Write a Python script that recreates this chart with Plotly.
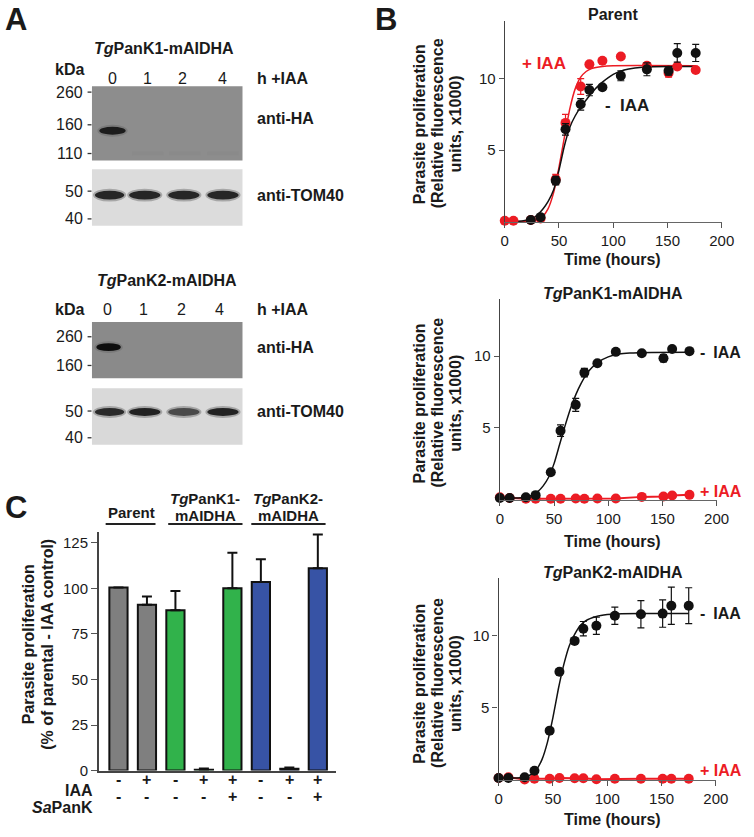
import plotly.graph_objects as go

W, H = 754, 837
FONT = "Liberation Sans, Arial, sans-serif"
RED = "#ec1c24"
BLACK = "#111111"

# ---------------- Panel B data (parasite proliferation, x1000 RFU) ----------------
time_parent = [0, 8, 24, 33, 47, 56, 70, 78, 90, 107, 131, 151, 159, 176]
parent_minus = [None, None, 0.1, 0.3, 2.85, 6.45, 8.2, 9.2, 9.4, 10.2, 10.65, 10.55, 11.8, 11.8]
parent_minus_err = [0, 0, 0, 0, 0.3, 0.4, 0.4, 0.4, 0, 0.35, 0.45, 0.3, 0.65, 0.6]
parent_plus = [0.05, 0.05, 0.1, 0.2, 2.95, 6.9, 9.45, 11.0, 11.25, 11.55, 10.9, 10.4, 10.85, 10.6]
parent_plus_err = [0, 0, 0, 0, 0.35, 0.6, 0.55, 0, 0, 0, 0.2, 0.3, 0, 0]

fit_t_parent_minus = [0, 10, 20, 25, 30, 35, 40, 45, 50, 55, 60, 65, 70, 75, 80, 90, 100, 110, 120, 130, 150, 176]
fit_parent_minus = [0.0, 0.0, 0.08, 0.2, 0.45, 0.85, 1.4, 2.2, 3.6, 5.3, 6.6, 7.4, 8.0, 8.5, 9.0, 9.75, 10.3, 10.6, 10.75, 10.82, 10.85, 10.85]
fit_t_parent_plus = [0, 10, 20, 30, 35, 40, 45, 50, 55, 60, 65, 70, 75, 80, 90, 100, 176]
fit_parent_plus = [0.0, 0.0, 0.0, 0.1, 0.35, 0.9, 2.0, 3.8, 5.9, 7.9, 9.3, 10.1, 10.5, 10.7, 10.85, 10.9, 10.9]

time_k = [0, 9, 24, 33, 47, 56, 70, 78, 90, 107, 131, 151, 159, 175]
k1_minus = [0.1, 0.1, 0.15, 0.3, 1.9, 4.8, 6.6, 8.85, 9.5, 10.3, 10.2, 9.85, 10.5, 10.35]
k1_minus_err = [0, 0, 0, 0, 0, 0.4, 0.45, 0.3, 0, 0, 0, 0.25, 0, 0]
k1_plus = [0.15, 0.1, 0.05, 0.05, 0.05, 0.05, 0.07, 0.05, 0.07, 0.07, 0.18, 0.2, 0.28, 0.32]
fit_t_k1 = [0, 10, 20, 25, 30, 35, 40, 45, 50, 55, 60, 65, 70, 75, 80, 85, 90, 100, 110, 120, 140, 175]
fit_k1 = [0.1, 0.1, 0.12, 0.18, 0.3, 0.55, 0.95, 1.55, 2.5, 3.8, 5.1, 6.3, 7.3, 8.1, 8.75, 9.2, 9.55, 9.95, 10.15, 10.22, 10.26, 10.27]

k2_minus = [0.1, 0.1, 0.15, 0.6, 3.4, 7.5, 9.65, 10.5, 10.7, 11.4, 11.5, 11.55, 12.1, 12.1]
k2_minus_err = [0, 0, 0, 0, 0, 0.2, 0, 0.5, 0.6, 0.6, 0.95, 0.95, 1.3, 1.25]
k2_plus = [0.1, 0.15, 0.0, 0.05, 0.05, 0.1, 0.08, 0.08, 0.02, 0.05, 0.05, 0.05, 0.05, 0.05]
fit_t_k2 = [0, 10, 20, 25, 30, 35, 40, 45, 50, 55, 60, 65, 70, 75, 80, 90, 100, 110, 130, 175]
fit_k2 = [0.1, 0.1, 0.12, 0.18, 0.35, 0.7, 1.4, 2.6, 4.3, 6.3, 8.0, 9.3, 10.1, 10.7, 11.05, 11.35, 11.48, 11.53, 11.55, 11.55]

time_ticks = [0, 50, 100, 150, 200]
rfu_ticks = [5, 10]

# ---------------- Panel C data ----------------
bar_values = [100.5, 91, 88, 0.5, 100, 103.5, 1, 111]
bar_err = [0, 4.5, 10.5, 0.7, 19.5, 12.5, 0.7, 18.5]
bar_colors = ["#7f7f7f", "#7f7f7f", "#31b24b", "#31b24b", "#31b24b", "#3753a5", "#3753a5", "#3753a5"]
iaa_signs = ["-", "+", "-", "+", "+", "-", "+", "+"]
sapank_signs = ["-", "-", "-", "-", "+", "-", "-", "+"]
pct_ticks = [0, 25, 50, 75, 100, 125]

# ---------------- Panel A labels ----------------
lanes = ["0", "1", "2", "4"]
blot1_ha_markers = ["260", "160", "110"]
blot1_tom_markers = ["50", "40"]
blot2_ha_markers = ["260", "160"]
blot2_tom_markers = ["50", "40"]


def px(x):
    return x / W


def py(y):
    return 1 - y / H


fig = go.Figure()
shapes = []
ann = []


def text(x, y, s, size=16, bold=False, color="#1a1a1a", xanchor="center", angle=0, yanchor="middle"):
    ann.append(dict(x=px(x), y=py(y), xref="paper", yref="paper", text=("<b>%s</b>" % s) if bold else s,
                    showarrow=False, xanchor=xanchor, yanchor=yanchor, textangle=angle,
                    font=dict(family=FONT, size=size, color=color)))


def rect(x0, y0, x1, y1, color):
    shapes.append(dict(type="rect", xref="paper", yref="paper", x0=px(x0), x1=px(x1), y0=py(y1), y1=py(y0),
                       line=dict(width=0), fillcolor=color, layer="below"))


def band(cx, cy, w, h, color, halo="#666666"):
    shapes.append(dict(type="circle", xref="paper", yref="paper", x0=px(cx - w / 2 - 2), x1=px(cx + w / 2 + 2),
                       y0=py(cy + h / 2 + 2), y1=py(cy - h / 2 - 2), line=dict(width=0), fillcolor=halo,
                       opacity=0.45, layer="below"))
    shapes.append(dict(type="circle", xref="paper", yref="paper", x0=px(cx - w / 2), x1=px(cx + w / 2),
                       y0=py(cy + h / 2), y1=py(cy - h / 2), line=dict(width=0), fillcolor=color, layer="below"))


def hline(x0, x1, y, width=1.3, color="#333333"):
    shapes.append(dict(type="line", xref="paper", yref="paper", x0=px(x0), x1=px(x1), y0=py(y), y1=py(y),
                       line=dict(width=width, color=color)))


# ---------------- Panel B traces ----------------
panels = [
    dict(n="", xd=(512.3, 734.3), yd=(21.7, 224.3)),
    dict(n="2", xd=(507.3, 729.0), yd=(301.7, 505.0)),
    dict(n="3", xd=(506.0, 728.3), yd=(584.0, 787.7)),
]


def marker_trace(t, v, err, color, n, mode="markers"):
    return go.Scatter(x=t, y=v, mode=mode, xaxis="x" + n, yaxis="y" + n,
                      marker=dict(size=10, color=color), line=dict(color=color, width=2),
                      error_y=dict(type="data", array=err, color=color, thickness=1.2, width=3.5),
                      showlegend=False, cliponaxis=False)


def curve_trace(t, v, color, n):
    return go.Scatter(x=t, y=v, mode="lines", xaxis="x" + n, yaxis="y" + n,
                      line=dict(color=color, width=1.5, shape="spline", smoothing=0.6),
                      showlegend=False, cliponaxis=False)


# Parent
fig.add_trace(curve_trace(fit_t_parent_plus, fit_parent_plus, RED, ""))
fig.add_trace(curve_trace(fit_t_parent_minus, fit_parent_minus, BLACK, ""))
fig.add_trace(marker_trace(time_parent, parent_plus, parent_plus_err, RED, ""))
fig.add_trace(marker_trace(time_parent, parent_minus, parent_minus_err, BLACK, ""))
# TgPanK1
fig.add_trace(marker_trace(time_k, k1_plus, [0] * len(time_k), RED, "2", mode="lines+markers"))
fig.add_trace(curve_trace(fit_t_k1, fit_k1, BLACK, "2"))
fig.add_trace(marker_trace(time_k, k1_minus, k1_minus_err, BLACK, "2"))
# TgPanK2
fig.add_trace(marker_trace(time_k, k2_plus, [0] * len(time_k), RED, "3", mode="lines+markers"))
fig.add_trace(curve_trace(fit_t_k2, fit_k2, BLACK, "3"))
fig.add_trace(marker_trace(time_k, k2_minus, k2_minus_err, BLACK, "3"))

layout_axes = {}
for p in panels:
    n = p["n"]
    layout_axes["xaxis" + n] = dict(domain=[px(p["xd"][0]), px(p["xd"][1])], anchor="y" + n, range=[0, 200],
                                    tickvals=time_ticks, ticks="outside", ticklen=5, tickwidth=1.2,
                                    tickcolor="#555555", showline=True, linecolor="#666666", linewidth=1.3,
                                    showgrid=False, zeroline=False,
                                    tickfont=dict(family=FONT, size=15, color="#1a1a1a"))
    layout_axes["yaxis" + n] = dict(domain=[py(p["yd"][1]), py(p["yd"][0])], anchor="x" + n, range=[-0.05, 14.0],
                                    tickvals=rfu_ticks, ticks="outside", ticklen=5, tickwidth=1.2,
                                    tickcolor="#555555", showline=True, linecolor="#444444", linewidth=1.3,
                                    showgrid=False, zeroline=False,
                                    tickfont=dict(family=FONT, size=15, color="#1a1a1a"))

# ---------------- Panel C bars ----------------
cat_pos = list(range(len(bar_values)))
fig.add_trace(go.Bar(x=cat_pos, y=bar_values, xaxis="x4", yaxis="y4",
                     marker=dict(color=bar_colors, line=dict(color="#111111", width=2)),
                     error_y=dict(type="data", array=bar_err, arrayminus=[0] * len(bar_err), symmetric=False,
                                  color="#111111", thickness=2, width=5),
                     width=0.64, showlegend=False, cliponaxis=False))
layout_axes["xaxis4"] = dict(domain=[px(97), px(340)], anchor="y4", range=[-0.69, 7.65], showline=True,
                             linecolor="#444444", linewidth=1.5, ticks="", showticklabels=False,
                             showgrid=False, zeroline=False)
layout_axes["yaxis4"] = dict(domain=[py(778), py(537)], anchor="x4", range=[0, 131], tickvals=pct_ticks,
                             ticks="outside", ticklen=6, tickwidth=1.2, tickcolor="#555555", showline=True,
                             linecolor="#444444", linewidth=1.5, showgrid=False, zeroline=False,
                             tickfont=dict(family=FONT, size=15, color="#1a1a1a"))

for i, s in enumerate(iaa_signs):
    ann.append(dict(x=cat_pos[i], y=py(798), xref="x4", yref="paper", text="<b>%s</b>" % s, showarrow=False,
                    font=dict(family=FONT, size=16, color="#1a1a1a")))
for i, s in enumerate(sapank_signs):
    ann.append(dict(x=cat_pos[i], y=py(815), xref="x4", yref="paper", text="<b>%s</b>" % s, showarrow=False,
                    font=dict(family=FONT, size=16, color="#1a1a1a")))
text(93, 798, "IAA", bold=True, xanchor="right")
text(93, 815, "<i>Sa</i>PanK", bold=True, xanchor="right")

text(130, 517, "Parent", size=15, bold=True)
text(206, 503, "<i>Tg</i>PanK1-", size=15, bold=True)
text(206, 520, "mAIDHA", size=15, bold=True)
text(291, 503, "<i>Tg</i>PanK2-", size=15, bold=True)
text(291, 520, "mAIDHA", size=15, bold=True)
hline(104, 155, 529, width=2, color="#222222")
hline(168, 244, 529, width=2, color="#222222")
hline(253, 329, 529, width=2, color="#222222")
text(25, 650, "Parasite proliferation", bold=True, angle=-90)
text(45, 650, "(% of parental - IAA control)", bold=True, angle=-90)

# ---------------- Panel B labels ----------------
titles_b = [("Parent", 15), ("<i>Tg</i>PanK1-mAIDHA", 296), ("<i>Tg</i>PanK2-mAIDHA", 578)]
for (t, y) in titles_b:
    text(623, y, t, bold=True)
for (yc, yt) in [(125, 262), (407, 547), (690, 827)]:
    text(425, yc, "Parasite proliferation", bold=True, angle=-90)
    text(443.5, yc, "(Relative fluorescence", bold=True, angle=-90)
    text(462, yc, "units, x1000)", bold=True, angle=-90)
    text(623, yt, "Time (hours)", bold=True)
text(528, 64, "+ IAA", size=17, bold=True, color=RED, xanchor="left")
text(613, 107, "- \u00a0IAA", size=17, bold=True, xanchor="left")
text(710, 356, "-\u2002IAA", size=16, bold=True, xanchor="left")
text(710, 496, "+ IAA", size=16, bold=True, color=RED, xanchor="left")
text(710, 619, "-\u2002IAA", size=16, bold=True, xanchor="left")
text(710, 778, "+ IAA", size=16, bold=True, color=RED, xanchor="left")

# ---------------- Panel letters ----------------
text(-1, 0, "A", size=31, bold=True, xanchor="left", yanchor="top")
text(378, 0, "B", size=31, bold=True, xanchor="left", yanchor="top")
text(-1, 493, "C", size=31, bold=True, xanchor="left", yanchor="top")

# ---------------- Panel A: western blots ----------------
# blot 1
text(164, 49, "<i>Tg</i>PanK1-mAIDHA", bold=True)
text(67, 70, "kDa", bold=True)
for x, l in zip([111, 147, 183, 224], lanes):
    text(x, 79, l)
text(257, 79, "h +IAA", bold=True, xanchor="left")
rect(90, 87, 244, 162, "#8d8d8d")
band(111, 132, 27, 8, "#1c1c1c")
for x in [147, 185, 224]:
    shapes.append(dict(type="rect", xref="paper", yref="paper", x0=px(x - 16), x1=px(x + 16), y0=py(157),
                       y1=py(153), line=dict(width=0), fillcolor="#8a8a8a", layer="below"))
rect(90, 171, 244, 228, "#dcdcdc")
for x, w in zip([108, 144, 184, 224], [30, 32, 32, 32]):
    band(x, 197, w, 9, "#262626")
for y, l in zip([93, 126, 155], blot1_ha_markers):
    text(83, y, l, xanchor="right")
    hline(85.5, 89.5, y)
for y, l in zip([193, 221], blot1_tom_markers):
    text(83, y, l, xanchor="right")
    hline(85.5, 89.5, y)
text(257, 120, "anti-HA", bold=True, xanchor="left")
text(257, 197, "anti-TOM40", bold=True, xanchor="left")

# blot 2
text(167, 283, "<i>Tg</i>PanK2-mAIDHA", bold=True)
text(67, 312, "kDa", bold=True)
for x, l in zip([106, 143, 182, 220], lanes):
    text(x, 312, l)
text(257, 312, "h +IAA", bold=True, xanchor="left")
rect(90, 325, 244, 382, "#8a8a8a")
band(107, 350.5, 25, 8, "#0e0e0e")
rect(90, 392, 244, 449, "#d9d9d9")
for x, w, c in zip([108, 144, 184, 224], [30, 32, 32, 32], ["#2a2a2a", "#222222", "#4a4a4a", "#222222"]):
    band(x, 416, w, 8, c)
for y, l in zip([340, 369], blot2_ha_markers):
    text(83, y, l, xanchor="right")
    hline(85.5, 89.5, y)
for y, l in zip([415, 442], blot2_tom_markers):
    text(83, y, l, xanchor="right")
    hline(85.5, 89.5, y)
text(257, 351, "anti-HA", bold=True, xanchor="left")
text(257, 415, "anti-TOM40", bold=True, xanchor="left")

fig.update_layout(width=W, height=H, margin=dict(l=0, r=0, t=0, b=0), paper_bgcolor="white",
                  plot_bgcolor="white", shapes=shapes, annotations=ann, bargap=0.36,
                  font=dict(family=FONT, color="#1a1a1a"), **layout_axes)
fig.write_html("out.html", config={"displayModeBar": False},
               post_script="document.body.style.margin='0px';")
